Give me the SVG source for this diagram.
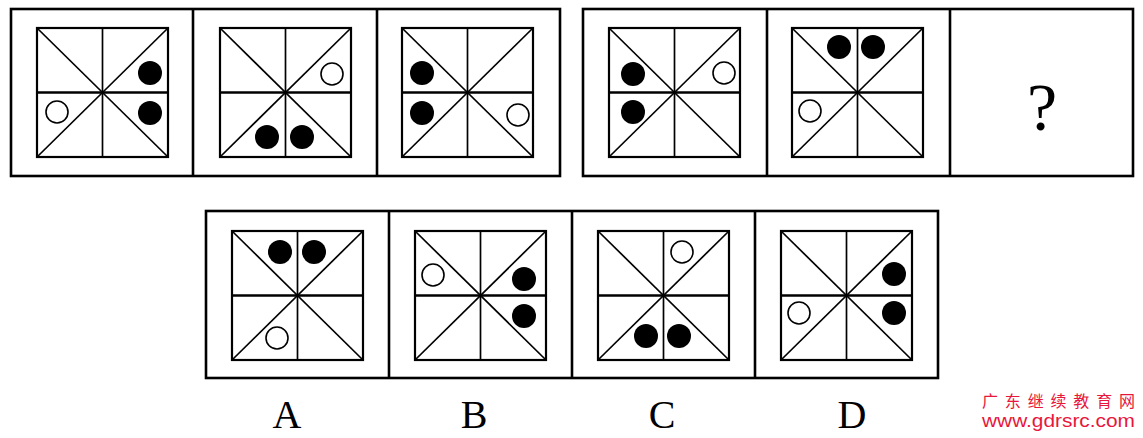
<svg xmlns="http://www.w3.org/2000/svg" width="1143" height="438" viewBox="0 0 1143 438">
<style>
.frame{fill:none;stroke:#000;stroke-width:2.6}
.sq{fill:none;stroke:#000;stroke-width:2.2}
.ln{stroke:#000;stroke-width:1.7;fill:none}
.hl{stroke:#000;stroke-width:2.4;fill:none}
.b{fill:#000}
.w{fill:#fff;stroke:#000;stroke-width:1.6}
.lbl{font-family:"Liberation Serif",serif;font-size:40px;fill:#000;text-anchor:middle}
.wm{font-family:"Liberation Sans","Noto Sans CJK SC",sans-serif;fill:#e8163c}
</style>
<defs>
<g id="grid">
<rect class="sq" x="0" y="0" width="131" height="129"/>
<line class="ln" x1="0" y1="0" x2="131" y2="129"/>
<line class="ln" x1="131" y1="0" x2="0" y2="129"/>
<line class="ln" x1="65.5" y1="0" x2="65.5" y2="129"/>
<line class="hl" x1="0" y1="64.5" x2="131" y2="64.5"/>
</g>
</defs>
<g id="connectors"></g>
<g id="q-group1">
<rect class="frame" x="11" y="9" width="549" height="167"/>
<line class="frame" x1="193" y1="9" x2="193" y2="176"/>
<line class="frame" x1="377" y1="9" x2="377" y2="176"/>
</g>
<g id="q-group2">
<rect class="frame" x="583" y="9" width="550" height="167"/>
<line class="frame" x1="767" y1="9" x2="767" y2="176"/>
<line class="frame" x1="950" y1="9" x2="950" y2="176"/>
</g>
<g id="p1">
<use href="#grid" x="37" y="28"/>
<circle class="b" cx="150" cy="73" r="12"/>
<circle class="b" cx="150" cy="113" r="12"/>
<circle class="w" cx="57" cy="112" r="11"/>
</g>
<g id="p2">
<use href="#grid" x="220" y="28"/>
<circle class="w" cx="332" cy="74" r="11"/>
<circle class="b" cx="267" cy="137" r="12"/>
<circle class="b" cx="302" cy="137" r="12"/>
</g>
<g id="p3">
<use href="#grid" x="402" y="28"/>
<circle class="b" cx="422" cy="73" r="12"/>
<circle class="b" cx="422" cy="113" r="12"/>
<circle class="w" cx="518" cy="115" r="11"/>
</g>
<g id="p4">
<use href="#grid" x="609" y="28"/>
<circle class="b" cx="633" cy="74" r="12"/>
<circle class="b" cx="633" cy="112" r="12"/>
<circle class="w" cx="724" cy="73" r="11"/>
</g>
<g id="p5">
<use href="#grid" x="792" y="28"/>
<circle class="b" cx="839" cy="47" r="12"/>
<circle class="b" cx="873" cy="47" r="12"/>
<circle class="w" cx="810" cy="111" r="11"/>
</g>
<g id="p6">
<text class="lbl" x="1042" y="130" style="font-size:68px">?</text>
</g>
<g id="options">
<rect class="frame" x="206" y="211" width="732" height="167"/>
<line class="frame" x1="389" y1="211" x2="389" y2="378"/>
<line class="frame" x1="572" y1="211" x2="572" y2="378"/>
<line class="frame" x1="755" y1="211" x2="755" y2="378"/>
</g>
<g id="optA">
<use href="#grid" x="232" y="231"/>
<circle class="b" cx="280" cy="252" r="12"/>
<circle class="b" cx="314" cy="252" r="12"/>
<circle class="w" cx="277" cy="338" r="11"/>
<text class="lbl" x="287" y="428">A</text>
</g>
<g id="optB">
<use href="#grid" x="415" y="231"/>
<circle class="w" cx="433" cy="275" r="11"/>
<circle class="b" cx="524" cy="279" r="12"/>
<circle class="b" cx="524" cy="316" r="12"/>
<text class="lbl" x="474" y="428">B</text>
</g>
<g id="optC">
<use href="#grid" x="598" y="231"/>
<circle class="w" cx="682" cy="252" r="11"/>
<circle class="b" cx="646" cy="336" r="12"/>
<circle class="b" cx="679" cy="336" r="12"/>
<text class="lbl" x="662" y="428">C</text>
</g>
<g id="optD">
<use href="#grid" x="781" y="231"/>
<circle class="w" cx="799" cy="313" r="11"/>
<circle class="b" cx="894" cy="274" r="12"/>
<circle class="b" cx="894" cy="313" r="12"/>
<text class="lbl" x="852" y="428">D</text>
</g>
<g id="watermark">
<text class="wm" x="982" y="407" style="font-size:16px" textLength="153" lengthAdjust="spacing">广东继续教育网</text>
<text class="wm" x="982" y="427" style="font-size:18px" textLength="153" lengthAdjust="spacingAndGlyphs">www.gdrsrc.com</text>
</g>
</svg>
